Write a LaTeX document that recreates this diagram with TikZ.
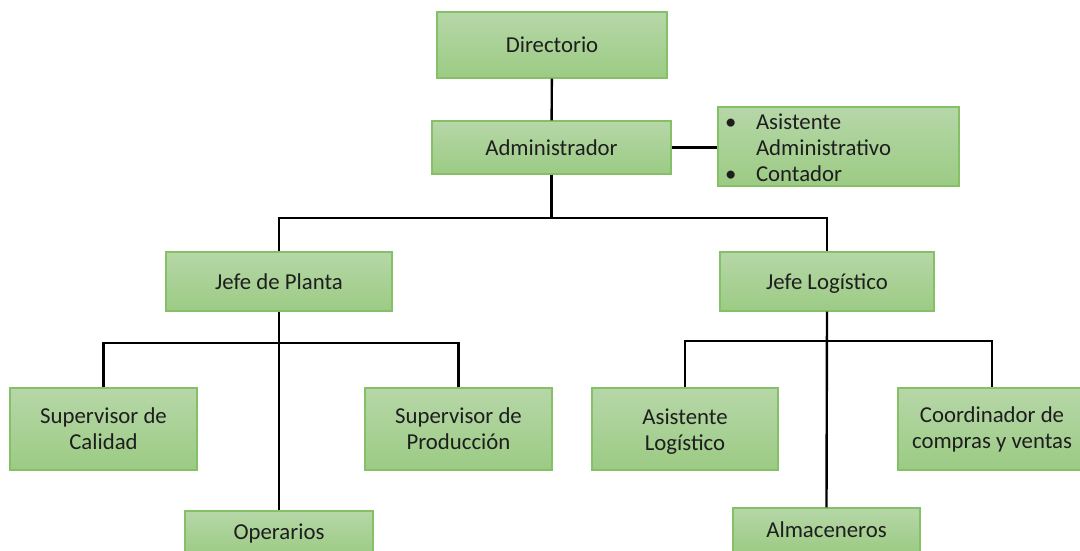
\documentclass[tikz,border=0pt]{standalone}
\usepackage{fontspec}
\setmainfont{Carlito}
\usetikzlibrary{positioning}

\definecolor{boxtop}{HTML}{B6D7A8}
\definecolor{boxbot}{HTML}{9CCB84}
\definecolor{boxline}{HTML}{86C066}
\definecolor{txt}{HTML}{1E1E1E}
\newcommand{\pxu}{0.025cm}

\tikzset{
    unit/.style={draw=boxline, line width=0.8pt, top color=boxtop, bottom color=boxbot,
        text=txt, align=center, font=\fontsize{16.2}{18.4}\selectfont, inner sep=0pt},
    link/.style={line width=1.7pt, black}
}

\begin{document}
\begin{tikzpicture}[x=\pxu, y=-\pxu]
            % page size
            \useasboundingbox (0,0) rectangle (1080,551);
            \clip (0,0) rectangle (1080,551);

            % top levels
            \node[unit, minimum width=230*\pxu, minimum height=66*\pxu] (dir) at (552,45) {Directorio};
            \node[unit, minimum width=239*\pxu, minimum height=53*\pxu] (adm) at (551.5,147.5) {Administrador};
            \node[unit, minimum width=241*\pxu, minimum height=79*\pxu, text width=227*\pxu, align=left] (asis) at (838.5,146.5) {%
                \raisebox{-2.8pt}[\height][\depth]{\begin{tabular}{@{}l@{\hspace{14pt}}l@{}}
                    \textbullet & Asistente \\
                                & Administrativo \\
                    \textbullet & Contador
                \end{tabular}}};

            % jefes
            \node[unit, minimum width=226*\pxu, minimum height=59*\pxu] (planta) at (279,281.5) {Jefe de Planta};
            \node[unit, minimum width=214*\pxu, minimum height=59*\pxu] (logis) at (827,281.5) {\raisebox{-1.4pt}[\height][\depth]{Jefe Logístico}};

            % bottom row
            \node[unit, minimum width=187*\pxu, minimum height=82*\pxu] (calidad) at (103.5,429) {Supervisor de\\Calidad};
            \node[unit, minimum width=187*\pxu, minimum height=82*\pxu] (produccion) at (458.5,429) {Supervisor de\\Producción};
            \node[unit, minimum width=188*\pxu, minimum height=44*\pxu] (operarios) at (279,533) {Operarios};
            \node[unit, minimum width=186*\pxu, minimum height=82*\pxu] (asislog) at (685,429) {\raisebox{-2.4pt}[\height][\depth]{\begin{tabular}{@{}c@{}}Asistente\\Logístico\end{tabular}}};
            \node[unit, minimum width=187*\pxu, minimum height=44*\pxu] (almac) at (826.5,530) {Almaceneros};
            \node[unit, minimum width=188*\pxu, minimum height=82*\pxu] (coord) at (992,429) {Coordinador de\\compras y ventas};

            % bus points
            \coordinate (busA) at (551.5,218);
            \coordinate (busP) at (279,343);
            \coordinate (busL) at (827,341);

            % draw connectors
            \draw[link] (dir) -- (adm);
            \draw[link] (adm.east) -- (adm.east -| asis.west);
            \draw[link] (adm.south) -- (busA);
            \draw[link] (planta.north) |- (busA) -| (logis.north);
            \draw[link] (calidad.north) |- (busP) -| (produccion.north);
            \draw[link] (planta.south) -- (operarios.north);
            \draw[link] (asislog.north) |- (busL) -| (coord.north);
            \draw[link] (logis.south) -- (almac.north);
        \end{tikzpicture}
\end{document}
